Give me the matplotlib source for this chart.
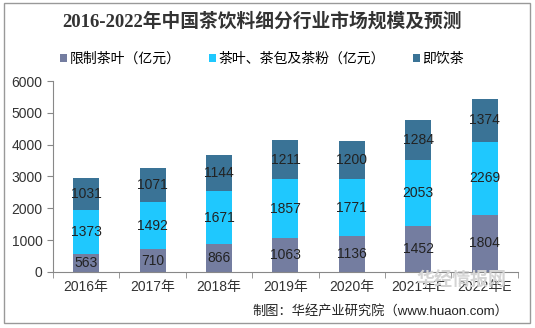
import numpy as np
import matplotlib
matplotlib.use('Agg')
import matplotlib.pyplot as plt
from matplotlib.patches import Rectangle

plt.rcParams['font.family'] = ['Liberation Sans', 'Noto Sans CJK SC', 'DejaVu Sans']

years = ['2016年', '2017年', '2018年', '2019年', '2020年', '2021年E', '2022年E']
limited_tea = [563, 710, 866, 1063, 1136, 1452, 1804]
tea_bag_powder = [1373, 1492, 1671, 1857, 1771, 2053, 2269]
rtd_tea = [1031, 1071, 1144, 1211, 1200, 1284, 1374]
series_names = ['限制茶叶（亿元）', '茶叶、茶包及茶粉（亿元）', '即饮茶']
colors = ['#747DA0', '#1FC8FE', '#3A7396']

fig = plt.figure(figsize=(5.35, 3.28), dpi=100)
ax = fig.add_axes([0.099, 0.171, 0.869, 0.582])

# light watermark behind the chart, as in the source image
fig.text(0.862, 0.145, '华经情报网', fontsize=13, color='#d4d4d4', fontweight='bold',
         ha='center', va='center', zorder=0, family=['Noto Sans CJK SC'])

x = np.arange(len(years))
bottom = np.zeros(len(years))
bars = []
for vals, name, c in zip([limited_tea, tea_bag_powder, rtd_tea], series_names, colors):
    b = ax.bar(x, vals, 0.39, bottom=bottom, color=c, label=name)
    ax.bar_label(b, labels=[str(v) for v in vals], label_type='center',
                 fontsize=10, color='#222222')
    bottom += np.array(vals)
    bars.append(b)

ax.set_xlim(-0.5, len(years) - 0.5)
ax.set_ylim(0, 6000)
ax.set_yticks(range(0, 6001, 1000))
ax.set_xticks(x)
ax.set_xticklabels(years, fontsize=10, color='#333333')
ax.set_xticks(np.arange(-0.5, len(years), 1), minor=True)
ax.tick_params(axis='x', which='major', length=0, pad=6)
ax.tick_params(axis='x', which='minor', length=4, color='#888888')
ax.tick_params(axis='y', length=4, color='#888888', labelsize=10, labelcolor='#333333')
for s in ['top', 'right']:
    ax.spines[s].set_visible(False)
for s in ['left', 'bottom']:
    ax.spines[s].set_color('#888888')
ax.patch.set_alpha(0)

fig.text(0.49, 0.935, '2016-2022年中国茶饮料细分行业市场规模及预测', ha='center', va='center',
         fontsize=13.5, fontweight='bold', color='#333333',
         family=['Liberation Serif', 'Noto Sans CJK SC'])
fig.legend(handles=bars, labels=series_names, loc='center', bbox_to_anchor=(0.49, 0.82),
           ncol=3, frameon=False, fontsize=10, handlelength=0.5, handleheight=0.5,
           handletextpad=0.2, columnspacing=2.0)

fig.text(0.95, 0.052, '制图：华经产业研究院（www.huaon.com）', ha='right', va='center',
         fontsize=9.5, color='#222222')

fig.patches.append(Rectangle((4 / 535, 5 / 328), 526 / 535, 320 / 328, transform=fig.transFigure,
                             fill=False, edgecolor='#999999', linewidth=1))

fig.savefig('out.png', dpi=100)
